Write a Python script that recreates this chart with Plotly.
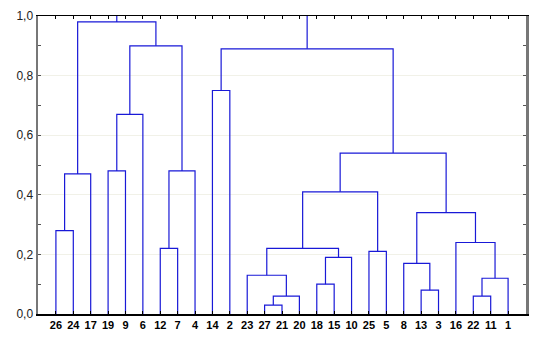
import plotly.graph_objects as go

# Leaf order along the x axis (tick labels)
leaf_labels = ["26", "24", "17", "19", "9", "6", "12", "7", "4", "14", "2",
               "23", "27", "21", "20", "18", "15", "10", "25", "5",
               "8", "13", "3", "16", "22", "11", "1"]

# Merge steps: left member, right member, linkage distance
merge_left = ["26", "c1", "19", "c3", "12", "c5", "c4", "c2", "14",
              "27", "c10", "23", "18", "c13", "c12", "25", "c15",
              "13", "8", "22", "c20", "16", "c19", "c17", "c9", "c8"]
merge_right = ["24", "17", "9", "6", "7", "4", "c6", "c7", "2",
               "21", "20", "c11", "15", "10", "c14", "5", "c16",
               "3", "c18", "11", "1", "c21", "c22", "c23", "c24", "c25"]
merge_height = [0.28, 0.47, 0.48, 0.67, 0.22, 0.48, 0.90, 0.98, 0.75,
                0.03, 0.06, 0.13, 0.10, 0.19, 0.22, 0.21, 0.41,
                0.08, 0.17, 0.06, 0.12, 0.24, 0.34, 0.54, 0.89, 1.05]

y_ticks = [0.0, 0.2, 0.4, 0.6, 0.8, 1.0]

pos = {lab: float(i) for i, lab in enumerate(leaf_labels)}
hgt = {lab: 0.0 for lab in leaf_labels}
xs, ys = [], []
for k, (a, b, h) in enumerate(zip(merge_left, merge_right, merge_height), start=1):
    xa, xb = pos[a], pos[b]
    xs += [xa, xa, xb, xb, None]
    ys += [hgt[a], h, h, hgt[b], None]
    name = f"c{k}"
    pos[name] = (xa + xb) / 2
    hgt[name] = h

fig = go.Figure()
fig.add_trace(go.Scatter(x=xs, y=ys, mode="lines",
                         line=dict(color="rgb(25,25,215)", width=1.2),
                         hoverinfo="skip", showlegend=False))

fig.update_layout(
    width=537, height=341,
    margin=dict(l=38, r=11, t=16, b=27, autoexpand=False),
    paper_bgcolor="white", plot_bgcolor="white",
    separators=", ",
    font=dict(family="Liberation Sans, Arial, sans-serif", color="#222"),
    xaxis=dict(
        range=[-1.03, len(leaf_labels) - 1 + 1.03],
        tickmode="array",
        tickvals=list(range(len(leaf_labels))),
        ticktext=leaf_labels,
        tickfont=dict(size=11, color="black", weight="bold"),
        ticks="inside", ticklen=3, tickcolor="black",
        showline=True, linecolor="black", linewidth=1.5, mirror="ticks",
        showgrid=False, zeroline=False, automargin=False,
    ),
    yaxis=dict(
        range=[0, 1.0],
        tickmode="array", tickvals=y_ticks,
        tickformat=".1f",
        tickfont=dict(size=12, color="#222"),
        ticks="inside", ticklen=3, tickcolor="#555",
        minor=dict(dtick=0.1, ticks="inside", ticklen=3, tickcolor="#555", showgrid=False),
        showline=True, linecolor="#777", linewidth=2.5, mirror="ticks",
        showgrid=True, gridcolor="#f1f1e8", gridwidth=1,
        zeroline=False, automargin=False,
    ),
)

fig.write_html("out.html",
               config={"displayModeBar": False, "staticPlot": True},
               post_script="document.body.style.margin='0';document.body.style.overflow='hidden';")
